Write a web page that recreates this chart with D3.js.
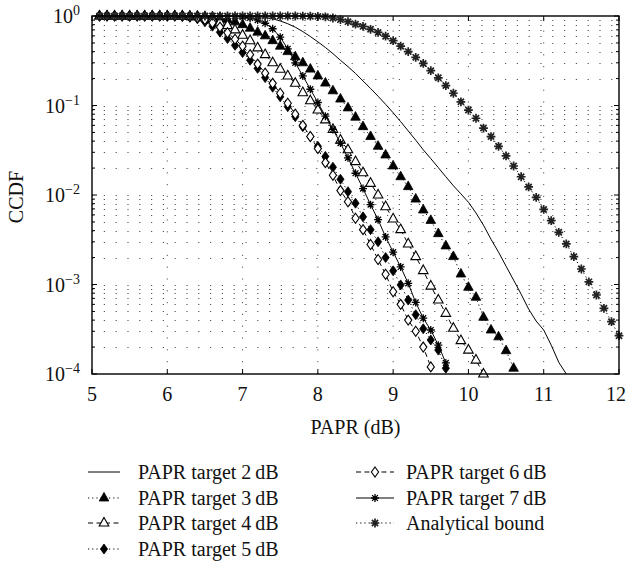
<!DOCTYPE html>
<html><head><meta charset="utf-8">
<script src="https://cdn.jsdelivr.net/npm/d3@7"></script>
<style>body{margin:0;background:#fff}svg{display:block}</style>
</head><body><svg id="c" width="627" height="564"></svg>
<script>
// ---------- data ----------
const paprX = [5.1,5.2,5.3,5.4,5.5,5.6,5.7,5.8,5.9,6.0,
  6.1,6.2,6.3,6.4,6.5,6.6,6.7,6.8,6.9,7.0,
  7.1,7.2,7.3,7.4,7.5,7.6,7.7,7.8,7.9,8.0,
  8.1,8.2,8.3,8.4,8.5,8.6,8.7,8.8,8.9,9.0,
  9.1,9.2,9.3,9.4,9.5,9.6,9.7,9.8,9.9,10.0,
  10.1,10.2,10.3,10.4,10.5,10.6,10.7,10.8,10.9,11.0,
  11.1,11.2,11.3,11.4,11.5,11.6,11.7,11.8,11.9,12.0];

// PAPR target 2 dB (5.1 .. 11.3)
const target2 = [1,1,1,1,1,1,1,1,1,1,
  1,1,1,1,1,1,1,1,1,0.998,
  0.995,0.985,0.965,0.93,0.88,0.82,0.75,0.67,0.59,0.515,
  0.445,0.38,0.32,0.272,0.228,0.188,0.155,0.127,0.103,0.083,
  0.066,0.052,0.041,0.032,0.0255,0.0202,0.016,0.0127,0.0103,0.0083,
  0.0063,0.0046,0.0032,0.0023,0.0016,0.00112,0.00078,0.00053,0.00039,0.00031,
  0.00021,0.000135,0.0001];

// PAPR target 3 dB (5.1 .. 10.6)
const target3 = [1,1,1,1,1,1,1,1,1,1,
  1,1,1,1,0.99,0.975,0.95,0.91,0.86,0.80,
  0.73,0.66,0.60,0.53,0.46,0.40,0.35,0.30,0.255,0.214,
  0.178,0.146,0.118,0.094,0.074,0.058,0.045,0.035,0.028,0.0211,
  0.016,0.0124,0.0090,0.0068,0.0052,0.0037,0.0027,0.00205,0.00131,0.00093,
  0.00072,0.00043,0.00031,0.00026,0.000182,0.000116];

// PAPR target 4 dB (5.1 .. 10.2)
const target4 = [1,1,1,1,1,1,1,1,1,1,
  1,1,0.99,0.975,0.95,0.91,0.85,0.78,0.70,0.61,
  0.53,0.44,0.37,0.30,0.254,0.214,0.177,0.139,0.113,0.089,
  0.069,0.054,0.041,0.032,0.0236,0.0177,0.0135,0.0100,0.0074,0.0054,
  0.0041,0.00284,0.00205,0.00143,0.00096,0.00067,0.000476,0.000324,0.000236,0.000185,
  0.000143,0.0001];

// PAPR target 5 dB (5.1 .. 9.7)
const target5 = [1,1,1,1,1,1,1,1,1,1,
  1,0.99,0.97,0.93,0.86,0.77,0.66,0.56,0.47,0.39,
  0.32,0.26,0.205,0.16,0.125,0.097,0.075,0.058,0.045,0.035,
  0.027,0.0204,0.0150,0.0109,0.0081,0.0057,0.0041,0.0030,0.0020,0.00142,
  0.00099,0.00067,0.00046,0.00032,0.00024,0.000185,0.000116];

// PAPR target 6 dB (5.1 .. 9.5)
const target6 = [1,1,1,1,1,1,1,1,1,1,
  1,1,0.985,0.96,0.91,0.84,0.75,0.65,0.55,0.46,
  0.37,0.29,0.23,0.177,0.137,0.106,0.080,0.060,0.045,0.033,
  0.023,0.0166,0.0112,0.0084,0.0055,0.0041,0.0028,0.0019,0.0013,0.00083,
  0.0006,0.0004,0.0003,0.0002,0.00012];

// PAPR target 7 dB (5.1 .. 9.7)
const target7 = [1,1,1,1,1,1,1,1,1,1,
  1,1,1,1,1,1,1,0.995,0.99,0.975,
  0.95,0.90,0.83,0.72,0.58,0.43,0.30,0.214,0.152,0.108,
  0.076,0.054,0.038,0.026,0.0175,0.0118,0.0078,0.0053,0.0034,0.0023,
  0.00157,0.00103,0.00063,0.00042,0.00031,0.00021,0.000133];

// Analytical bound (5.1 .. 12.0)
const analytical = [1,1,1,1,1,1,1,1,1,1,
  1,1,1,1,1,1,1,1,1,1,
  1,1,1,1,1,1,1,0.998,0.995,0.99,
  0.98,0.95,0.91,0.865,0.81,0.765,0.71,0.655,0.595,0.53,
  0.46,0.40,0.345,0.295,0.245,0.204,0.167,0.137,0.110,0.089,
  0.072,0.056,0.045,0.035,0.0273,0.0211,0.0160,0.0123,0.0094,0.0069,
  0.00516,0.00383,0.00284,0.00205,0.00149,0.00107,0.000763,0.000542,0.000384,0.000268];

const xTickValues = [5,6,7,8,9,10,11,12];
const yTickExponents = [0,-1,-2,-3,-4];
const seriesNames = ["PAPR target 2\u2009dB","PAPR target 3\u2009dB","PAPR target 4\u2009dB","PAPR target 5\u2009dB","PAPR target 6\u2009dB","PAPR target 7\u2009dB","Analytical bound"];
const xAxisTitle = "PAPR (dB)";
const yAxisTitle = "CCDF";

// ---------- drawing ----------
const FONT = "'Liberation Serif','Times New Roman',serif";
const svg = d3.select("#c");
svg.append("rect").attr("width",627).attr("height",564).attr("fill","#fff");

const L=92, R=619, T=16, B=374;
const x = d3.scaleLinear().domain([5,12]).range([L,R]);
const y = d3.scaleLog().domain([1e-4,1]).range([B,T]);

// grid
const grid = svg.append("g").attr("stroke","#555").attr("stroke-width",1).attr("stroke-dasharray","1.2,10.6");
y.ticks().forEach(v=>{
  if (v<=1e-4 || v>=1) return;
  grid.append("line").attr("x1",L).attr("x2",R).attr("y1",Math.round(y(v))+0.5).attr("y2",Math.round(y(v))+0.5);
});
x.ticks(7).filter(v=>v>5&&v<12).forEach(v=>{
  grid.append("line").attr("x1",x(v)).attr("x2",x(v)).attr("y1",B).attr("y2",T);
});

// series
const series = [
  {name:seriesNames[0], vals:target2, dash:null, marker:null},
  {name:seriesNames[1], vals:target3, dash:"1.2,3", marker:"triFill"},
  {name:seriesNames[2], vals:target4, dash:"5,3.5", marker:"triOpen"},
  {name:seriesNames[3], vals:target5, dash:"1.2,3", marker:"diaFill"},
  {name:seriesNames[4], vals:target6, dash:"5,3.5", marker:"diaOpen"},
  {name:seriesNames[5], vals:target7, dash:null, marker:"star"},
  {name:seriesNames[6], vals:analytical, dash:"1.2,3", marker:"starBig"}
];

const shapes = {
  triFill:{d:"M0,-5.6L4.8,3L-4.8,3Z", fill:"#000", stroke:"#000", sw:0.8},
  triOpen:{d:"M0,-5.6L4.8,3L-4.8,3Z", fill:"#fff", stroke:"#000", sw:1.1},
  diaFill:{d:"M0,-5L3.6,0L0,5L-3.6,0Z", fill:"#000", stroke:"#000", sw:0.8},
  diaOpen:{d:"M0,-5L3.6,0L0,5L-3.6,0Z", fill:"#fff", stroke:"#000", sw:1.1},
  star:{d:"M-4,0H4M0,-4V4M-2.9,-2.9L2.9,2.9M-2.9,2.9L2.9,-2.9", fill:"none", stroke:"#000", sw:1.3},
  starBig:{d:"M-4.4,0H4.4M0,-4.4V4.4M-3.1,-3.1L3.1,3.1M-3.1,3.1L3.1,-3.1", fill:"none", stroke:"#222", sw:1.7}
};

const line = d3.line().x(d=>x(d[0])).y(d=>y(d[1]));
const plot = svg.append("g");
series.forEach(s=>{
  const pts = s.vals.map((v,i)=>[paprX[i], v]);
  plot.append("path").datum(pts).attr("d",line).attr("fill","none")
    .attr("stroke","#000").attr("stroke-width",1)
    .attr("stroke-dasharray",s.dash);
  if (s.marker){
    const sh = shapes[s.marker];
    plot.append("g").selectAll("path").data(pts).join("path")
      .attr("transform",d=>`translate(${x(d[0])},${y(d[1])})`)
      .attr("d",sh.d).attr("fill",sh.fill).attr("stroke",sh.stroke).attr("stroke-width",sh.sw);
  }
});

// frame
svg.append("rect").attr("x",L).attr("y",T).attr("width",R-L).attr("height",B-T)
  .attr("fill","none").attr("stroke","#000").attr("stroke-width",1.4);

// ticks
const tk = svg.append("g").attr("stroke","#000").attr("stroke-width",1);
xTickValues.forEach(v=>{
  tk.append("line").attr("x1",x(v)).attr("x2",x(v)).attr("y1",B).attr("y2",B-5);
  tk.append("line").attr("x1",x(v)).attr("x2",x(v)).attr("y1",T).attr("y2",T+5);
});
y.ticks().forEach(v=>{
  const major = Math.abs(Math.log10(v) - Math.round(Math.log10(v)))<1e-9;
  const len = major?5:3;
  const yy = y(v);
  tk.append("line").attr("x1",L).attr("x2",L+len).attr("y1",yy).attr("y2",yy);
  tk.append("line").attr("x1",R).attr("x2",R-len).attr("y1",yy).attr("y2",yy);
});

// tick labels
const xl = svg.append("g").attr("font-family",FONT).attr("font-size",20).attr("fill","#111");
xTickValues.forEach((v,i)=>{
  const last = i===xTickValues.length-1;
  xl.append("text").attr("x",last?626:x(v)).attr("y",401)
    .attr("text-anchor",last?"end":"middle").text(v);
});
const yl = svg.append("g").attr("font-family",FONT).attr("fill","#111").attr("text-anchor","end");
yTickExponents.forEach(e=>{
  const t = yl.append("text").attr("x",80).attr("y",y(Math.pow(10,e))+7).attr("font-size",20);
  t.append("tspan").text("10");
  t.append("tspan").attr("dy",-8).attr("font-size",14).text(e===0?"0":"\u2212"+Math.abs(e));
});

// axis titles
svg.append("text").attr("x",(L+R)/2).attr("y",434).attr("text-anchor","middle")
  .attr("font-family",FONT).attr("font-size",20).attr("fill","#111").text(xAxisTitle);
svg.append("text").attr("transform","translate(23,197) rotate(-90)").attr("text-anchor","middle")
  .attr("font-family",FONT).attr("font-size",20).attr("fill","#111").text(yAxisTitle);

// legend
const rowsY = [472,498,523,549];
const legendPos = [
  {col:0,row:0},{col:0,row:1},{col:0,row:2},{col:0,row:3},
  {col:1,row:0},{col:1,row:1},{col:1,row:2}
];
const cols = [{x0:88,x1:120,tx:138},{x0:356,x1:394,tx:406}];
const lg = svg.append("g");
series.forEach((s,i)=>{
  const p = legendPos[i], c = cols[p.col], yy = rowsY[p.row];
  lg.append("line").attr("x1",c.x0).attr("x2",c.x1).attr("y1",yy).attr("y2",yy)
    .attr("stroke","#000").attr("stroke-width",1).attr("stroke-dasharray",s.dash);
  if (s.marker){
    const sh = shapes[s.marker];
    lg.append("path").attr("transform",`translate(${(c.x0+c.x1)/2},${yy})`)
      .attr("d",sh.d).attr("fill",sh.fill).attr("stroke",sh.stroke).attr("stroke-width",sh.sw);
  }
  lg.append("text").attr("x",c.tx).attr("y",yy+7).attr("font-family",FONT).attr("font-size",20)
    .attr("fill","#111").text(s.name);
});
</script></body></html>
